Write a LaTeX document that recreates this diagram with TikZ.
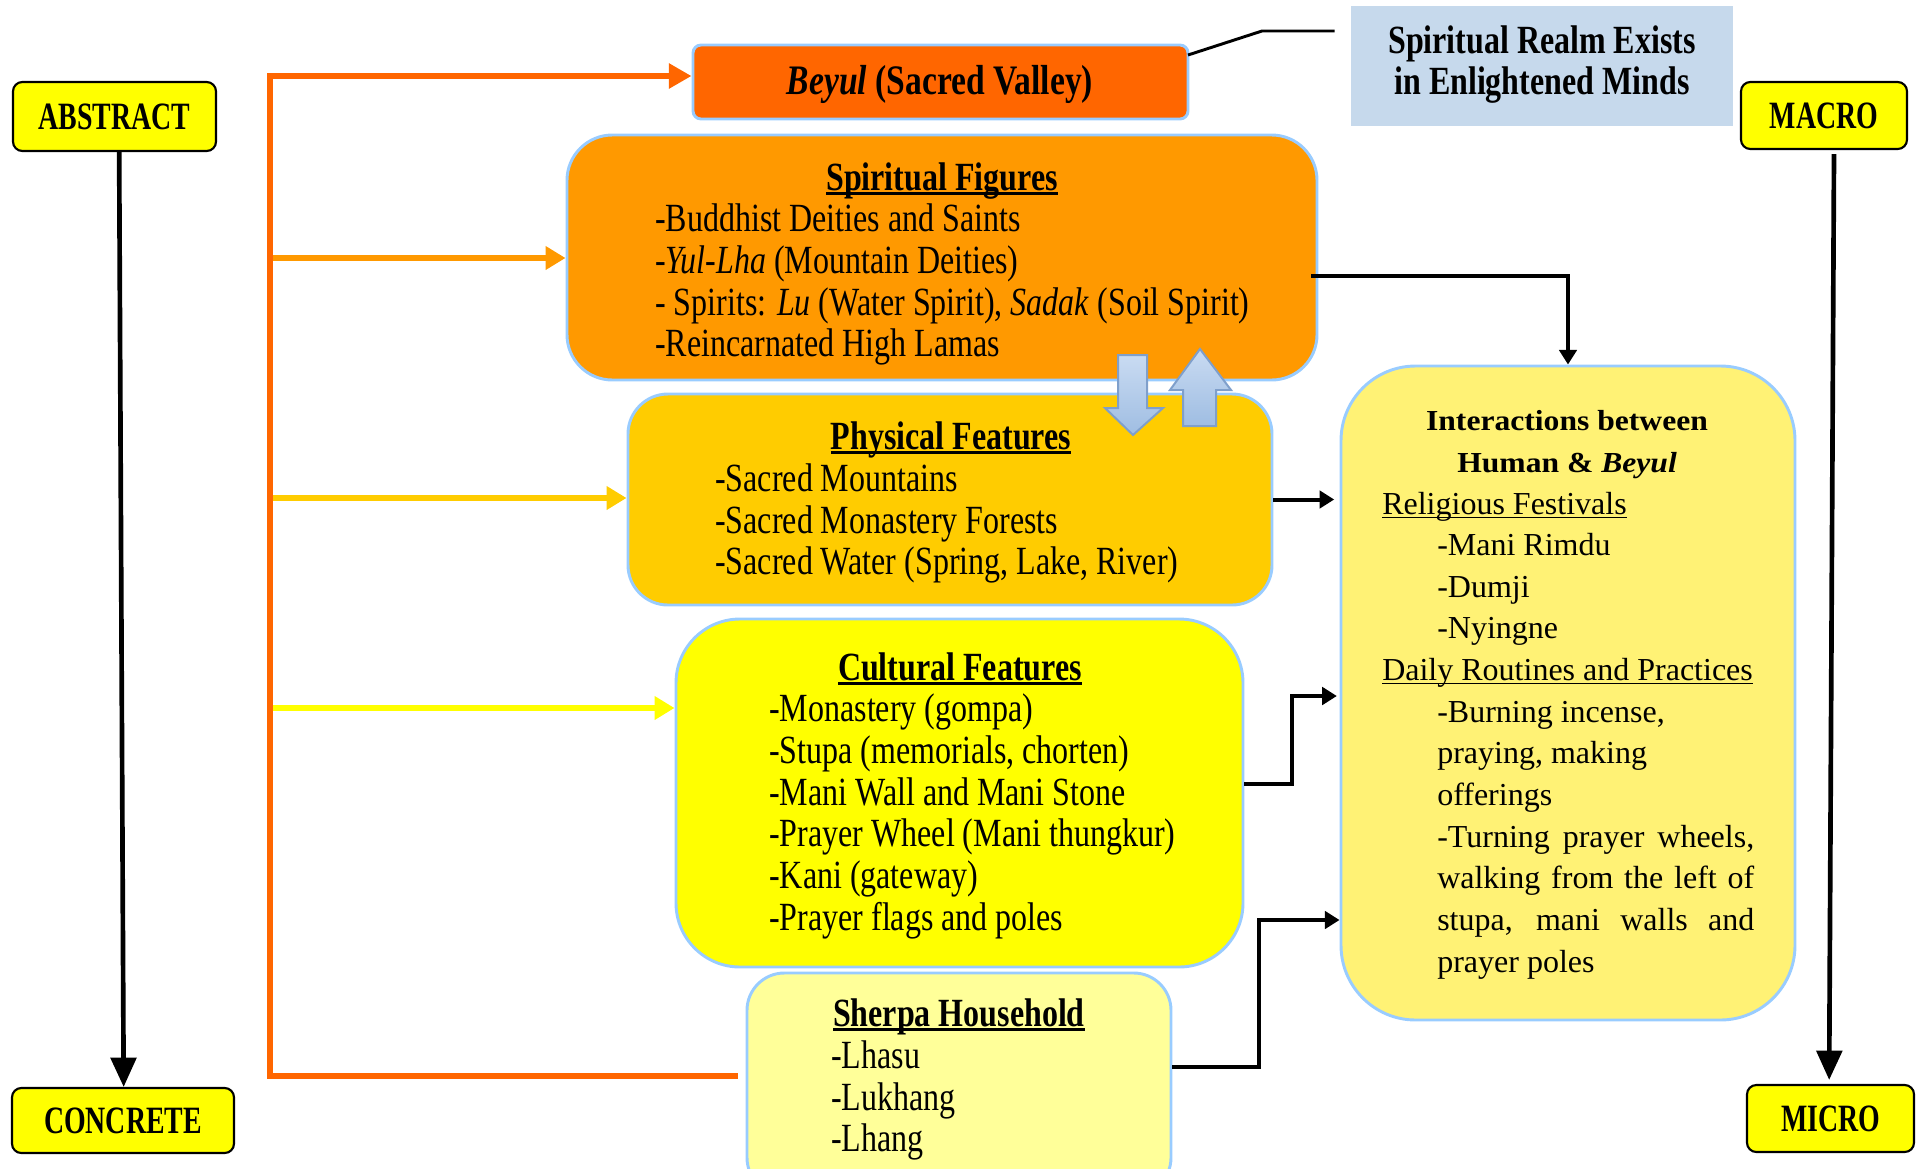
\documentclass[tikz,border=0pt]{standalone}
\usepackage{fontspec}
\setmainfont{Liberation Serif}
\newfontfamily\cond[FakeStretch=0.8]{Liberation Serif}
\newfontfamily\condx[FakeStretch=0.72]{Liberation Serif}
\newfontfamily\wideb[FakeStretch=1.09]{Liberation Serif}
\usetikzlibrary{arrows.meta,fit,calc}
\definecolor{cYel}{HTML}{FFFF00}
\definecolor{cBorder}{HTML}{99CCFF}
\definecolor{cOr}{HTML}{FF6600}
\definecolor{cOr2}{HTML}{FF9900}
\definecolor{cGold}{HTML}{FFCC00}
\definecolor{cPale}{HTML}{FFFF99}
\definecolor{cInt}{HTML}{FFF275}
\definecolor{cRealm}{HTML}{C6D9EC}
\definecolor{cArrTop}{HTML}{C9DBF2}
\definecolor{cArrBot}{HTML}{9FBDE2}
\definecolor{cArrLine}{HTML}{7F9FCB}
\newcommand\ttlul[1]{\setbox0\hbox{#1}\rlap{\rule[-3.5pt]{\wd0}{1.8pt}}\box0}
\newcommand\txtul[1]{\setbox0\hbox{#1}\rlap{\rule[-3pt]{\wd0}{1.1pt}}\box0}
\begin{document}
\begin{tikzpicture}[x=0.75pt,y=-0.75pt,
  box/.style={draw=cBorder, line width=2.2pt, inner sep=0pt},
  lbox/.style={draw=black, line width=1.6pt, fill=cYel, rounded corners=7pt, inner sep=0pt,
    font=\condx\bfseries\fontsize{29}{30}\selectfont},
  body/.style={anchor=base west, inner sep=0pt, font=\cond\fontsize{30}{32}\selectfont},
  ttl/.style={anchor=base, inner sep=0pt, font=\cond\bfseries\fontsize{30}{32}\selectfont},
  ibody/.style={anchor=base west, inner sep=0pt, font=\fontsize{24}{26}\selectfont},
  ittl/.style={anchor=base, inner sep=0pt, font=\wideb\bfseries\fontsize{21.75}{24}\selectfont},
  brk/.style={draw=cOr, line width=4.5pt, -{Triangle[length=17pt,width=18pt]}},
  carr/.style={line width=4pt, -{Triangle[length=15pt,width=17pt]}},
  blk/.style={draw=black, line width=3pt, -{Triangle[length=11pt,width=13pt]}},
  axis/.style={draw=black, line width=3.5pt, -{Triangle[length=22pt,width=19pt]}},
  barrow/.style={draw=cArrLine, line width=1.5pt, top color=cArrTop, bottom color=cArrBot}
]
\useasboundingbox (0,0) rectangle (1921,1168);
\clip (0,0) rectangle (1921,1168);

% side labels
\node[lbox, minimum width=152.25pt, minimum height=51.75pt] (abs) at (114.5,116.5) {ABSTRACT};
\node[lbox, minimum width=166.5pt, minimum height=48.75pt] (con) at (123,1120.5) {CONCRETE};
\node[lbox, minimum width=124.5pt, minimum height=50.25pt] (mac) at (1824,115.5) {MACRO};
\node[lbox, minimum width=125.25pt, minimum height=50.25pt] (mic) at (1830.5,1118.5) {MICRO};

\draw[axis] ([xshift=3.5pt]abs.south) -- ([xshift=0.5pt]con.north);
\draw[axis] ([xshift=7.5pt,yshift=-3pt]mac.south) -- ([xshift=-1pt,yshift=3pt]mic.north);

% realm note
\node[fill=cRealm, inner sep=0pt, fit={(1351,6) (1733,126)}] (sr) {};
\node[ttl] (sr1) at (1542,53) {Spiritual Realm Exists};
\node[ttl] (sr2) at (1542,94) {in Enlightened Minds};

% Beyul
\node[box, fill=cOr, rounded corners=6pt, fit={(693,45) (1188,119)}] (by) {};
\node[inner sep=0pt, font=\cond\bfseries\fontsize{31.5}{34}\selectfont] (byt) at (940,84) {\textit{Beyul} (Sacred Valley)};
\coordinate (q0) at (1188,55);
\coordinate (q1) at (1262,31);
\draw[black, line width=2.2pt] (q0) -- (q1) -- ([xshift=-12pt]sr.west |- q1);

% Spiritual figures
\node[box, fill=cOr2, rounded corners=34pt, fit={(567,135) (1317,380)}] (sf) {};
\node[ttl] (sft) at (942,190) {\ttlul{Spiritual Figures}};
\node[body] (sf1) at (655,231) {-Buddhist Deities and Saints};
\node[body] (sf2) at (655,273) {-\textit{Yul-Lha} (Mountain Deities)};
\node[body] (sf3) at (655,315) {- Spirits: \textit{Lu} (Water Spirit), \textit{Sadak} (Soil Spirit)};
\node[body] (sf4) at (655,356) {-Reincarnated High Lamas};

% Physical features
\node[box, fill=cGold, rounded corners=30pt, fit={(628,394) (1272,605)}] (pf) {};
\node[ttl] (pft) at (951,449) {\ttlul{Physical Features}};
\node[body] (pf1) at (715,491) {-Sacred Mountains};
\node[body] (pf2) at (715,533) {-Sacred Monastery Forests};
\node[body] (pf3) at (715,574) {-Sacred Water (Spring, Lake, River)};

% block arrows
\draw[barrow] (1118,355) -- (1147,355) -- (1147,408) -- (1163,408) -- (1133,435) -- (1105,408) -- (1118,408) -- cycle;
\draw[barrow] (1183,426) -- (1216,426) -- (1216,390) -- (1231,390) -- (1200,349) -- (1170,390) -- (1183,390) -- cycle;

% Cultural features
\node[box, fill=cYel, rounded corners=48pt, fit={(676,619) (1243,967)}] (cf) {};
\node[ttl] (cft) at (960,680) {\ttlul{Cultural Features}};
\node[body] (cf1) at (769,721) {-Monastery (gompa)};
\node[body] (cf2) at (769,763) {-Stupa (memorials, chorten)};
\node[body] (cf3) at (769,805) {-Mani Wall and Mani Stone};
\node[body] (cf4) at (769,846) {-Prayer Wheel (Mani thungkur)};
\node[body] (cf5) at (769,888) {-Kani (gateway)};
\node[body] (cf6) at (769,930) {-Prayer flags and poles};

% Sherpa household
\node[box, fill=cPale, rounded corners=28pt, fit={(747,973) (1171,1195)}] (sh) {};
\node[ttl] (sht) at (959,1026) {\ttlul{Sherpa Household}};
\node[body] (sh1) at (831,1068) {-Lhasu};
\node[body] (sh2) at (831,1110) {-Lukhang};
\node[body] (sh3) at (831,1151) {-Lhang};

% Interactions
\node[box, fill=cInt, rounded corners=56pt, fit={(1341,366) (1795,1020)}] (ib) {};
\node[ittl] (ibt1) at (1567,430) {Interactions between};
\node[ittl] (ibt2) at (1567,472) {Human \& \textit{Beyul}};
\node[ibody] (ib1) at (1382,514) {\txtul{Religious Festivals}};
\node[ibody] (ib2) at (1437,555) {-Mani Rimdu};
\node[ibody] (ib3) at (1437,597) {-Dumji};
\node[ibody] (ib4) at (1437,638) {-Nyingne};
\node[ibody] (ib5) at (1382,680) {\txtul{Daily Routines and Practices}};
\node[ibody] (ib6) at (1437,722) {-Burning incense,};
\node[ibody] (ib7) at (1437,763) {praying, making};
\node[ibody] (ib8) at (1437,805) {offerings};
\node[ibody] (ib9) at (1437,847) {\makebox[237.75pt][s]{-Turning prayer wheels,}};
\node[ibody] (ib10) at (1437,888) {\makebox[237.75pt][s]{walking from the left of}};
\node[ibody] (ib11) at (1437,930) {\makebox[237.75pt][s]{stupa, mani walls and}};
\node[ibody] (ib12) at (1437,972) {prayer poles};

% orange bracket
\coordinate (bt) at (270,76);
\coordinate (bb) at (270,1076);
\draw[brk] ([xshift=-6pt]sh.west |- bb) -- (bb) -- (bt) -- (by.west |- bt);
\coordinate (b1) at (273,258);
\coordinate (b2) at (273,498);
\coordinate (b3) at (273,708);
\draw[carr, draw=cOr2] (b1) -- (sf.west |- b1);
\draw[carr, draw=cGold] (b2) -- (pf.west |- b2);
\draw[carr, draw=cYel] (b3) -- (cf.west |- b3);

% black connectors
\coordinate (k0) at (1311,276);
\draw[blk] (k0) -| (ib.north);
\draw[blk, shorten >=4pt] (pf.east) -- (ib.west |- pf.east);
\coordinate (k1) at (1292,784);
\coordinate (k2) at (1292,696);
\draw[blk, shorten >=2pt] (cf.east |- k1) -- (k1) -- (k2) -- (ib.west |- k2);
\coordinate (m1) at (1259,1067);
\coordinate (m2) at (1259,920);
\draw[blk] (sh.east |- m1) -- (m1) -- (m2) -- (ib.west |- m2);
\end{tikzpicture}
\end{document}
